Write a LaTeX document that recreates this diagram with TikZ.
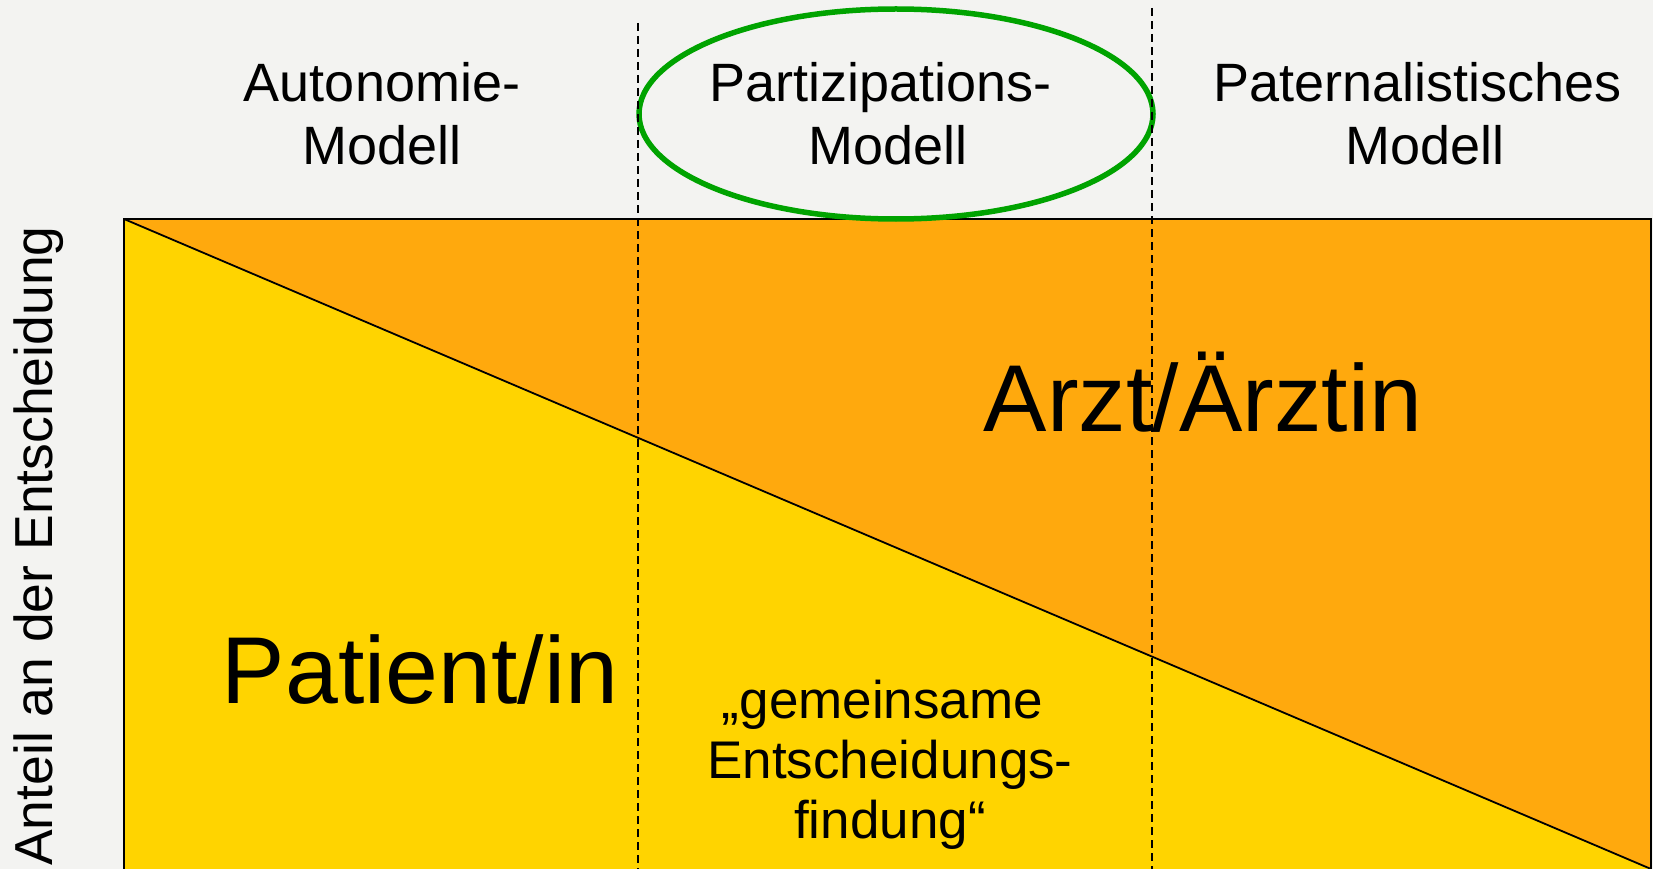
\documentclass[tikz,border=0pt]{standalone}
\usepackage{fontspec}
\setmainfont{Liberation Sans}
\definecolor{bgc}{HTML}{F3F3F1}
\definecolor{yellowc}{HTML}{FFD400}
\definecolor{orangec}{HTML}{FFA90D}
\definecolor{greenc}{HTML}{00A300}
\begin{document}
\begin{tikzpicture}[x=1pt,y=-1pt,
  titletext/.style={align=center, inner sep=0pt, anchor=base, font=\fontsize{54}{63}\selectfont},
  bigtext/.style={inner sep=0pt, anchor=base, font=\fontsize{95}{100}\selectfont},
  midtext/.style={align=center, inner sep=0pt, anchor=base, font=\fontsize{53}{60}\selectfont},
  dashline/.style={line width=1.5pt, dash pattern=on 8pt off 5pt},
  frameline/.style={line width=2.5pt}]
\useasboundingbox (0,0) rectangle (1653,869);
\clip (0,0) rectangle (1653,869);
\fill[bgc] (0,0) rectangle (1653,869);
% areas
\fill[yellowc] (124,219) rectangle (1651,890);
\fill[orangec] (124,219) -- (1651,219) -- (1651,869) -- cycle;
\draw[frameline] (124,890) -- (124,219) -- (1651,219) -- (1651,890);
\coordinate (diagA) at (124,219);
\coordinate (diagB) at (1651,869);
\draw[line width=1.8pt] (diagA) -- (diagB);
% highlight ellipse
\draw[greenc, line width=5.5pt] (896,114) ellipse [x radius=257, y radius=105];
% titles
\node[titletext] (aut) at (382,165) {Autonomie-\\Modell};
\node[titletext] (par) at (888,165) {Partizipations-\hspace*{15pt}\\Modell};
\node[titletext] (pat) at (1425,165) {Paternalistisches\hspace*{15pt}\\Modell};
% labels
\node[bigtext] (arzt) at (1203,431) {Arzt/Ärztin};
\node[bigtext] (patient) at (420,703) {Patient/in};
\node[midtext] (gem) at (890,838) {„gemeinsame\hspace*{15pt}\\Entscheidungs-\\findung“};
\node[inner sep=0pt, anchor=base west, rotate=90, font=\fontsize{53.5}{56}\selectfont] (axis) at (52,866) {Anteil an der Entscheidung};
% dashed separators
\coordinate (d1t) at (638,23);
\coordinate (d1b) at (638,869);
\coordinate (d2t) at (1152,8);
\coordinate (d2b) at (1152,869);
\draw[dashline] (d1t) -- (d1b);
\draw[dashline] (d2t) -- (d2b);
\end{tikzpicture}
\end{document}
